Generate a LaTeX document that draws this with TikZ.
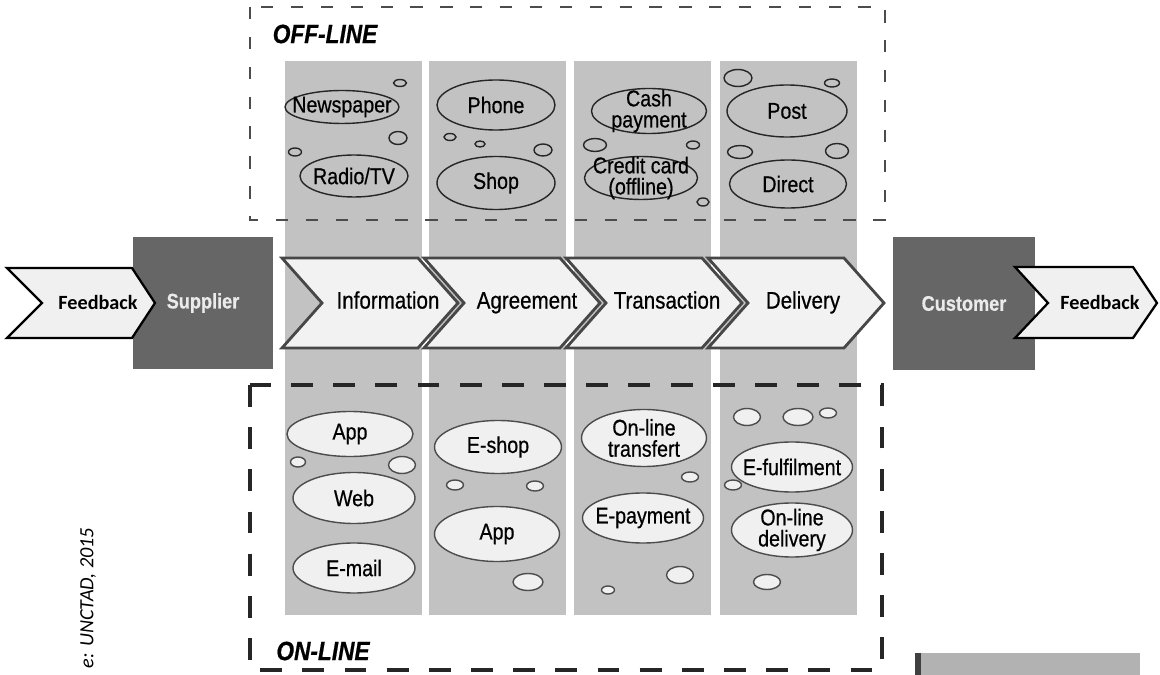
\documentclass[tikz,border=0pt]{standalone}
\usepackage{fontspec}
\setmainfont{Liberation Sans}
\newfontfamily\narrowfont[FakeStretch=0.86,FakeBold=0.6]{Liberation Sans}
\newfontfamily\califont{Carlito}
\usetikzlibrary{shapes.geometric}

\begin{document}
\begin{tikzpicture}[x=0.02cm,y=-0.02cm,
		column/.style={fill=black!24},
		sz/.style 2 args={minimum width=#1*0.02cm,minimum height=#2*0.02cm},
		ell text/.style={align=center,inner sep=0pt,font=\narrowfont\fontsize{13}{12}\selectfont},
		off ell/.style={ellipse,draw=black!85,line width=0.8pt,inner sep=0pt},
		on ell/.style={ellipse,draw=black!70,fill=black!6,line width=0.8pt,inner sep=0pt},
		off bub/.style={draw=black!85,line width=0.8pt},
		on bub/.style={draw=black!70,fill=black!6,line width=0.8pt},
		chev/.style={draw=black!72,fill=black!5,line width=1.6pt},
		chev label/.style={text height=1.6ex,text depth=0.4ex,font=\narrowfont\fontsize{13.6}{15}\selectfont},
		fb/.style={draw=black,fill=black!6,line width=1.3pt},
		fb label/.style={text height=1.6ex,text depth=0.3ex,font=\califont\bfseries\fontsize{11.5}{13}\selectfont},
		party/.style={fill=black!60,text=black!8,inner sep=0pt,font=\narrowfont\bfseries\fontsize{12}{14}\selectfont},
		mode/.style={font=\narrowfont\bfseries\itshape\fontsize{15}{17}\selectfont},
		off box/.style={draw=black!70,line width=0.6pt,dash pattern=on 7pt off 10pt},
		on box/.style={draw=black!85,line width=2.2pt,dash pattern=on 12.5pt off 11.5pt}]

		\useasboundingbox (0,0) rectangle (1160,675);

		% stage columns
		\foreach \x in {285,429,574,720}
			\fill[column] (\x,61) rectangle ++(137,554);

		% off-line channels
		\node[off ell, sz={114}{33}, label={[ell text]center:Newspaper}] (news) at (342,107) {};
		\node[off ell, sz={108}{42}, label={[ell text]center:Radio/TV}] (radio) at (354,176) {};
		\node[off ell, sz={118}{50}, label={[ell text]center:Phone}] (phone) at (496,105) {};
		\node[off ell, sz={118}{53}, label={[ell text]center:Shop}] (shop) at (496,183) {};
		\node[off ell, sz={115}{45}, label={[ell text]center:{Cash\\payment}}] (cash) at (649,111) {};
		\node[off ell, sz={113}{43}, label={[ell text]center:{Credit card\\(offline)}}] (credit) at (641,178) {};
		\node[off ell, sz={120}{52}, label={[ell text]center:Post}] (post) at (787,111) {};
		\node[off ell, sz={117}{48}, label={[ell text]center:Direct}] (direct) at (788,184) {};

		\foreach \x/\y/\w/\h in {400/83/13/7, 398/138/18/13, 295/152/13/8, 450/137/12/7, 480/144/10/6,
				543/150/18/12, 595/145/23/13, 693/145/13/8, 703/202/12/8, 738/78/28/17, 832/83/15/8,
				740/152/25/13, 837/151/23/15}
			\draw[off bub] (\x,\y) ellipse [x radius=\w*0.01cm, y radius=\h*0.01cm];

		% on-line channels
		\node[on ell, sz={126}{45}, label={[ell text]center:App}] (app) at (350,434) {};
		\node[on ell, sz={122}{51}, label={[ell text]center:Web}] (web) at (354,498) {};
		\node[on ell, sz={122}{50}, label={[ell text]center:E-mail}] (email) at (354,568) {};
		\node[on ell, sz={127}{53}, label={[ell text]center:E-shop}] (eshop) at (498,447) {};
		\node[on ell, sz={125}{55}, label={[ell text]center:App}] (eapp) at (497,534) {};
		\node[on ell, sz={125}{57}, label={[ell text]center:{On-line\\transfert}}] (transf) at (644,438) {};
		\node[on ell, sz={121}{50}, label={[ell text]center:E-payment}] (epay) at (643,518) {};
		\node[on ell, sz={121}{50}, label={[ell text]center:E-fulfilment}] (eful) at (792,467) {};
		\node[on ell, sz={121}{54}, label={[ell text]center:{On-line\\delivery}}] (odeliv) at (792,530) {};

		\foreach \x/\y/\w/\h in {298/462/15/10, 402/465/27/17, 455/485/17/10, 535/486/17/10, 528/582/30/17,
				690/477/17/10, 680/575/27/17, 608/590/13/8, 747/417/27/17, 798/417/30/17, 828/413/17/10,
				733/485/17/10, 767/582/27/15}
			\draw[on bub] (\x,\y) ellipse [x radius=\w*0.01cm, y radius=\h*0.01cm];

		% dashed frames
		\draw[off box] (250,7) rectangle (885,220);
		\draw[on box] (250,385) rectangle (882,670);
		\node[mode] (offl) at (325,34) {OFF-LINE};
		\node[mode] (onl) at (323,651) {ON-LINE};

		% value chain
		\foreach \l in {282,424,566,708}
			\draw[chev] (\l,258) -- ++(136,0) -- ++(40,45) -- ++(-40,45) -- ++(-136,0) -- ++(40,-45) -- cycle;
		\node[chev label] (info) at (388,303) {Information};
		\node[chev label] (agree) at (527,303) {Agreement};
		\node[chev label] (trans) at (667,303) {Transaction};
		\node[chev label] (deliv) at (803,303) {Delivery};

		\node[party, minimum width=2.8cm, minimum height=2.64cm] (supp) at (203,303) {Supplier};
		\node[party, minimum width=2.84cm, minimum height=2.66cm] (cust) at (964,303.5) {Customer};

		\draw[fb] (7,268) -- (132,268) -- (155,303) -- (132,338) -- (7,338) -- (42,303) -- cycle;
		\draw[fb] (1015,267) -- (1133,267) -- (1157,303) -- (1133,338) -- (1015,338) -- (1048,303) -- cycle;
		\node[fb label] (fbin) at (98,303) {Feedback};
		\node[fb label] (fbout) at (1100,303) {Feedback};

		\node[rotate=90, font=\califont\itshape\fontsize{11.5}{13}\selectfont] (src) at (88,598) {e: UNCTAD, 2015};

		\fill[black!30] (918,653) rectangle (1140,675);
		\fill[black!75] (915,653) rectangle (921,675);
\end{tikzpicture}
\end{document}
